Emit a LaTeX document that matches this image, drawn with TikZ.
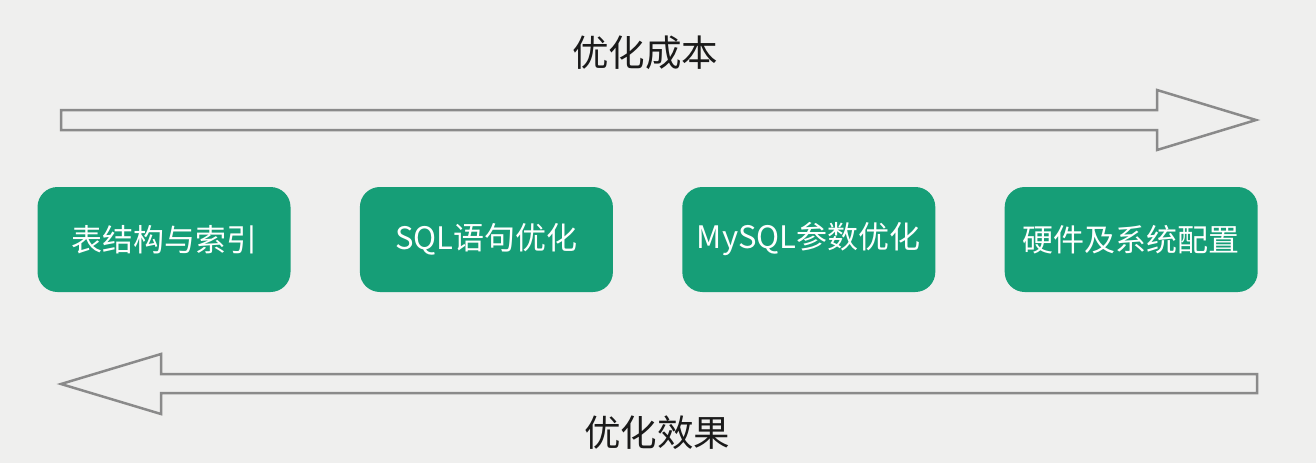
\documentclass[tikz,border=0pt]{standalone}
\usepackage{fontspec}
\setmainfont{Noto Sans CJK SC}
\usetikzlibrary{positioning}
\definecolor{bggray}{HTML}{EFEFEE}
\definecolor{boxgreen}{HTML}{169E77}
\definecolor{arrowgray}{HTML}{8A8A8A}
\definecolor{textdark}{HTML}{1A1A1A}

\begin{document}
\begin{tikzpicture}[x=1pt,y=-1pt,node distance=69pt,
   stage/.style={rectangle, rounded corners=20pt, fill=boxgreen, text=white,
      minimum width=253pt, minimum height=105pt, inner sep=0pt,
      font=\fontsize{31}{31}\selectfont},
   caption/.style={text=textdark, inner sep=0pt, font=\fontsize{36.5}{36.5}\selectfont},
   bigarrow/.style={draw=arrowgray, line width=2.5pt, fill=bggray, line join=miter}]
   \fill[bggray] (0,0) rectangle (1316,463);
   \useasboundingbox (0,0) rectangle (1316,463);
   \node[stage] (s_1) at (164,239.5) {表结构与索引};
   \node[stage] (s_2) [right=of s_1] {SQL语句优化};
   \node[stage] (s_3) [right=of s_2] {MySQL参数优化};
   \node[stage] (s_4) [right=of s_3] {硬件及系统配置};
   \node[caption] (cost) at (645,53) {优化成本};
   \node[caption] (effect) at (657,433) {优化效果};
    % cost arrow, left to right
    \path[bigarrow] (61,110) -- (1157,110) -- (1157,90) -- (1256,120)
       -- (1157,150) -- (1157,130) -- (61,130) -- cycle;
    % effect arrow, right to left
    \path[bigarrow] (1257,374) -- (161,374) -- (161,354) -- (61,384)
       -- (161,414) -- (161,393) -- (1257,393) -- cycle;
\end{tikzpicture}
\end{document}
